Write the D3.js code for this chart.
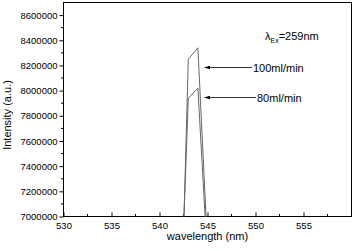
<!DOCTYPE html>
<html><head><meta charset="utf-8">
<script src="https://cdn.jsdelivr.net/npm/d3@7"></script>
<style>body{margin:0;background:#fff}svg{display:block;font-family:"Liberation Sans",Arial,sans-serif}</style>
</head><body><svg id="c" width="354" height="251"></svg>
<script>
const wavelength = [542, 543, 544, 545];
const flow100 = [5470000, 8250000, 8340000, 6760000];
const flow80 = [5850000, 7940000, 8020000, 6660000];
const xTicks = [530, 535, 540, 545, 550, 555];
const yTicks = [7000000, 7200000, 7400000, 7600000, 7800000, 8000000, 8200000, 8400000, 8600000];
const labels = ["100ml/min", "80ml/min"];

const svg = d3.select("#c");
const L = 63.5, R = 351.5, T = 2.5, B = 216.5;
const x = d3.scaleLinear().domain([530, 560]).range([L, R]);
const y = d3.scaleLinear().domain([7000000, 8700000]).range([B, T]);

svg.append("defs").append("clipPath").attr("id", "clip")
  .append("rect").attr("x", L).attr("y", T).attr("width", R - L).attr("height", B - T);

// minor ticks
const xMinor = d3.range(532.5, 560, 5);
const yMinor = d3.range(7100000, 8700000, 200000);
svg.append("g").selectAll("line").data(xMinor).join("line")
  .attr("x1", d => x(d)).attr("x2", d => x(d)).attr("y1", B).attr("y2", B - 2.5)
  .attr("stroke", "#000").attr("stroke-width", 1);
svg.append("g").selectAll("line").data(yMinor).join("line")
  .attr("x1", L).attr("x2", L - 2.5).attr("y1", d => y(d)).attr("y2", d => y(d))
  .attr("stroke", "#000").attr("stroke-width", 1);

const xAxis = svg.append("g").attr("transform", `translate(0,${B})`)
  .call(d3.axisBottom(x).tickValues(xTicks).tickSize(-4).tickPadding(6).tickFormat(d3.format("d")));
const yAxis = svg.append("g").attr("transform", `translate(${L},0)`)
  .call(d3.axisLeft(y).tickValues(yTicks).tickSize(4).tickPadding(2).tickFormat(d3.format("d")));
[xAxis, yAxis].forEach(g => {
  g.select(".domain").remove();
  g.selectAll("text").attr("font-size", 9.5).attr("fill", "#000").attr("font-family", "Liberation Sans, Arial, sans-serif");
});
xAxis.selectAll("text").attr("dy", "0.71em");

svg.append("rect").attr("x", L).attr("y", T).attr("width", R - L).attr("height", B - T)
  .attr("fill", "none").attr("stroke", "#000").attr("stroke-width", 1);

const line = d3.line().x((d, i) => x(wavelength[i])).y(d => y(d));
const g = svg.append("g").attr("clip-path", "url(#clip)");
[flow100, flow80].forEach(s => {
  g.append("path").attr("d", line(s)).attr("fill", "none").attr("stroke", "#666").attr("stroke-width", 1);
});

// annotations
const ann = [{v: 67.5, t: labels[0], tx: 253}, {v: 97.5, t: labels[1], tx: 257}];
const tip = 204;
ann.forEach(a => {
  svg.append("line").attr("x1", a.tx - 1).attr("x2", tip + 4).attr("y1", a.v).attr("y2", a.v)
    .attr("stroke", "#000").attr("stroke-width", 0.8);
  svg.append("path").attr("d", `M${tip},${a.v} L${tip + 6},${a.v - 1.8} L${tip + 6},${a.v + 1.8} Z`)
    .attr("fill", "#000");
  svg.append("text").attr("x", a.tx).attr("y", a.v + 4).attr("font-size", 11).text(a.t);
});
const lam = svg.append("text").attr("x", 265).attr("y", 40).attr("font-size", 11);
lam.append("tspan").text("λ");
lam.append("tspan").attr("font-size", 7).attr("dy", 3).text("Ex");
lam.append("tspan").attr("dy", -3).text("=259nm");

svg.append("text").attr("x", (L + R) / 2).attr("y", 240).attr("text-anchor", "middle")
  .attr("font-size", 11).text("wavelength (nm)");
svg.append("text").attr("transform", "translate(11,115) rotate(-90)").attr("text-anchor", "middle")
  .attr("font-size", 11).text("Intensity (a.u.)");
</script></body></html>
